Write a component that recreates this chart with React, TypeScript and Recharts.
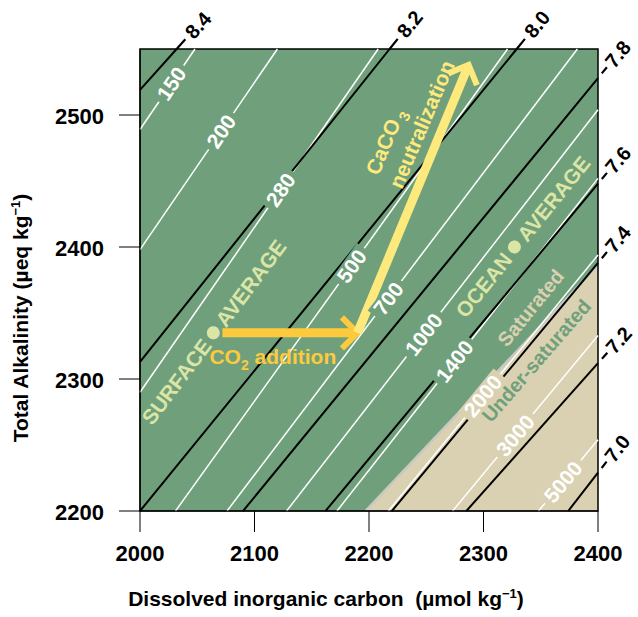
import React from 'react';
import {
  ComposedChart,
  XAxis,
  YAxis,
  Line,
  Area,
  Scatter,
  ReferenceLine,
  ReferenceArea,
  ReferenceDot,
  CartesianGrid,
  Label,
} from 'recharts';

// axes (DIC in µmol/kg, TA in µeq/kg)
const dicTicks = [2000, 2100, 2200, 2300, 2400];
const taTicks = [2200, 2300, 2400, 2500];
const dicRange = [2000, 2400];
const taRange = [2200, 2550];

// pH isolines (black), where each one enters and leaves the frame
const phLabels = ['8.4', '8.2', '8.0', '7.8', '7.6', '7.4', '7.2', '7.0'];
const phStart = [
  { x: 2000, y: 2519 },
  { x: 2000, y: 2313 },
  { x: 2000, y: 2200 },
  { x: 2090, y: 2200 },
  { x: 2162, y: 2200 },
  { x: 2220, y: 2200 },
  { x: 2285, y: 2200 },
  { x: 2374, y: 2200 },
];
const phEnd = [
  { x: 2032, y: 2550 },
  { x: 2218, y: 2550 },
  { x: 2329, y: 2550 },
  { x: 2400, y: 2528 },
  { x: 2400, y: 2448 },
  { x: 2400, y: 2388 },
  { x: 2400, y: 2312 },
  { x: 2400, y: 2229 },
];

// pCO2 isolines (white, µatm)
const pco2Labels = ['150', '200', '280', '500', '700', '1000', '1400', '2000', '3000', '5000'];
const pco2Start = [
  { x: 2000, y: 2489 },
  { x: 2000, y: 2398 },
  { x: 2000, y: 2290 },
  { x: 2031, y: 2200 },
  { x: 2076, y: 2200 },
  { x: 2128, y: 2200 },
  { x: 2172, y: 2200 },
  { x: 2217, y: 2200 },
  { x: 2273, y: 2200 },
  { x: 2348, y: 2200 },
];
const pco2End = [
  { x: 2048, y: 2550 },
  { x: 2120, y: 2550 },
  { x: 2208, y: 2550 },
  { x: 2321, y: 2550 },
  { x: 2382, y: 2550 },
  { x: 2400, y: 2504 },
  { x: 2400, y: 2452 },
  { x: 2400, y: 2394 },
  { x: 2400, y: 2333 },
  { x: 2400, y: 2254 },
];

// calcite saturation boundary
const saturation = [
  { x: 2197, y: 2200 },
  { x: 2400, y: 2386 },
];

const averages = [
  { x: 2064, y: 2335, name: 'SURFACE' },
  { x: 2327, y: 2400, name: 'OCEAN' },
];

const co2Addition = [
  { x: 2072, y: 2335 },
  { x: 2190, y: 2335 },
];
const caco3Neutralization = [
  { x: 2190, y: 2335 },
  { x: 2287, y: 2538 },
];

// label placement along the white lines (fraction of the segment)
const pco2LabelAt = [0.57, 0.59, 0.59, 0.53, 0.46, 0.44, 0.45, 0.45, 0.43, 0.41];

const FONT = '"Liberation Sans", Arial, Helvetica, sans-serif';
const GREEN = '#70a07b';
const BEIGE = '#d9d1b1';
const PALE = '#dbe5a5';
const ORANGE = '#fdca3e';
const LEMON = '#fde97c';
const bold = { fontFamily: FONT, fontWeight: 700 } as const;

const inlineLabel = (text: string, at: number, bg: string) => (p: any) => {
  const pts = p.points;
  if (!pts || pts.length < 2 || p.index !== 0) return <g key={p.key} />;
  const [a, b] = pts;
  const x = a.x + (b.x - a.x) * at;
  const y = a.y + (b.y - a.y) * at;
  const ang = (Math.atan2(b.y - a.y, b.x - a.x) * 180) / Math.PI;
  const w = text.length * 12 + 8;
  return (
    <g key={p.key} transform={`translate(${x},${y}) rotate(${ang})`}>
      <rect x={-w / 2} y={-9} width={w} height={18} fill={bg} />
      <text textAnchor="middle" dy="0.36em" fill="#fff" fontSize={21} {...bold}>
        {text}
      </text>
    </g>
  );
};

const edgeLabel = (text: string) => (p: any) => {
  const pts = p.points;
  if (!pts || pts.length < 2 || p.index !== 1) return <g key={p.key} />;
  const [a, b] = pts;
  const len = Math.hypot(b.x - a.x, b.y - a.y);
  const ux = (b.x - a.x) / len;
  const uy = (b.y - a.y) / len;
  const right = p.payload.x >= dicRange[1];
  const s0 = right ? 6 : 0;
  const s1 = right ? 14 : 13;
  const c = right ? 31 : 32;
  const ang = (Math.atan2(uy, ux) * 180) / Math.PI;
  return (
    <g key={p.key}>
      <line
        x1={b.x + ux * s0}
        y1={b.y + uy * s0}
        x2={b.x + ux * s1}
        y2={b.y + uy * s1}
        stroke="#000"
        strokeWidth={2.2}
      />
      <text
        transform={`translate(${b.x + ux * c},${b.y + uy * c}) rotate(${ang})`}
        textAnchor="middle"
        dy="0.36em"
        fontSize={20}
        fill="#000"
        {...bold}
      >
        {text}
      </text>
    </g>
  );
};

const arrowShape = (color: string, caption: boolean) => (p: any) => {
  const { x1, y1, x2, y2 } = p;
  const t = Math.atan2(y2 - y1, x2 - x1);
  const L = 22;
  const s = 0.78;
  const ax = x2 - L * Math.cos(t - s);
  const ay = y2 - L * Math.sin(t - s);
  const bx = x2 - L * Math.cos(t + s);
  const by = y2 - L * Math.sin(t + s);
  return (
    <g>
      <line
        x1={x1}
        y1={y1}
        x2={x2 - 3 * Math.cos(t)}
        y2={y2 - 3 * Math.sin(t)}
        stroke={color}
        strokeWidth={9}
      />
      <polyline
        points={`${ax},${ay} ${x2},${y2} ${bx},${by}`}
        fill="none"
        stroke={color}
        strokeWidth={6}
      />
      {caption && (
        <text x={x1 - 13} y={y1 + 31} fill={color} fontSize={21} {...bold}>
          CO
          <tspan dy={6} fontSize={14}>
            2
          </tspan>
          <tspan dy={-6}> addition</tspan>
        </text>
      )}
    </g>
  );
};

const averageShape = (p: any) => {
  const { cx, cy, payload } = p;
  const ang = payload.name === 'SURFACE' ? -53 : -51;
  return (
    <g transform={`translate(${cx},${cy}) rotate(${ang})`}>
      <circle r={6.5} fill={PALE} />
      <text x={-11} dy="0.36em" textAnchor="end" fill={PALE} fontSize={21} {...bold}>
        {payload.name}
      </text>
      <text x={11} dy="0.36em" textAnchor="start" fill={PALE} fontSize={21} {...bold}>
        AVERAGE
      </text>
    </g>
  );
};

const noteShape = (text: string, ang: number, color: string) => (p: any) => (
  <g transform={`translate(${p.cx},${p.cy}) rotate(${ang})`}>
    <text textAnchor="middle" dy="0.36em" fill={color} fontSize={20} {...bold}>
      {text}
    </text>
  </g>
);

const caco3Note = (p: any) => (
  <g transform={`translate(${p.cx},${p.cy}) rotate(-67)`} fill={LEMON} fontSize={21} {...bold}>
    <text textAnchor="middle" dy="0.36em">
      CaCO
      <tspan dx={3} dy={6} fontSize={15}>
        3
      </tspan>
    </text>
    <text x={30} y={27} textAnchor="middle" dy="0.36em">
      neutralization
    </text>
  </g>
);

const xTick = (p: any) => (
  <text x={p.x} y={p.y + 25} textAnchor="middle" fill="#000" fontSize={22} {...bold}>
    {p.payload.value}
  </text>
);

const yTick = (p: any) => (
  <text x={p.x} y={p.y + 9} textAnchor="end" fill="#000" fontSize={22} {...bold}>
    {p.payload.value}
  </text>
);

const xTitle = () => (
  <text x={326} y={606} textAnchor="middle" fill="#000" fontSize={21} style={{ whiteSpace: 'pre' }} {...bold}>
    {'Dissolved inorganic carbon  (µmol kg'}
    <tspan dy={-8} fontSize={13}>
      −1
    </tspan>
    <tspan dy={8}>)</tspan>
  </text>
);

const yTitle = () => (
  <text transform="translate(28,318) rotate(-90)" textAnchor="middle" fill="#000" fontSize={21} {...bold}>
    {'Total Alkalinity (µeq kg'}
    <tspan dy={-8} fontSize={13}>
      −1
    </tspan>
    <tspan dy={8}>)</tspan>
  </text>
);

export default function App() {
  return (
    <div style={{ position: 'absolute', left: 0, top: 0, background: '#fff' }}>
      <ComposedChart width={638} height={617} margin={{ top: 49, right: 40, bottom: 0, left: 0 }}>
        <CartesianGrid horizontal={false} vertical={false} fill={GREEN} fillOpacity={1} />
        <XAxis
          type="number"
          dataKey="x"
          domain={dicRange}
          ticks={dicTicks}
          height={106}
          tickSize={21}
          tickMargin={4}
          axisLine={{ stroke: '#000' }}
          tickLine={{ stroke: '#000' }}
          tick={xTick}
        >
          <Label content={xTitle} />
        </XAxis>
        <YAxis
          type="number"
          domain={taRange}
          ticks={taTicks}
          width={140}
          tickSize={21}
          tickMargin={15}
          axisLine={{ stroke: '#000' }}
          tickLine={{ stroke: '#000' }}
          tick={yTick}
        >
          <Label content={yTitle} />
        </YAxis>

        <Area
          data={saturation}
          dataKey="y"
          type="linear"
          baseValue={taRange[0]}
          fill={BEIGE}
          fillOpacity={1}
          stroke="#c9c9c4"
          strokeWidth={2.5}
          isAnimationActive={false}
          activeDot={false}
        />

        {pco2Labels.map((lab, i) => (
          <Line
            key={`pco2-${lab}`}
            data={[pco2Start[i], pco2End[i]]}
            dataKey="y"
            type="linear"
            stroke="#fff"
            strokeWidth={1.5}
            dot={inlineLabel(lab, pco2LabelAt[i], i >= 7 ? BEIGE : GREEN)}
            activeDot={false}
            isAnimationActive={false}
          />
        ))}

        {phLabels.map((lab, i) => (
          <Line
            key={`ph-${lab}`}
            data={[phStart[i], phEnd[i]]}
            dataKey="y"
            type="linear"
            stroke="#000"
            strokeWidth={2}
            dot={edgeLabel(lab)}
            activeDot={false}
            isAnimationActive={false}
          />
        ))}

        <ReferenceLine segment={co2Addition} shape={arrowShape(ORANGE, true)} />
        <ReferenceLine segment={caco3Neutralization} shape={arrowShape(LEMON, false)} />

        <Scatter data={averages} dataKey="y" shape={averageShape} isAnimationActive={false} />

        <ReferenceDot x={2341} y={2354} r={0} shape={noteShape('Saturated', -51, BEIGE)} />
        <ReferenceDot x={2346} y={2314} r={0} shape={noteShape('Under-saturated', -49, GREEN)} />
        <ReferenceDot x={2214} y={2480} r={0} shape={caco3Note} />

        <ReferenceArea
          x1={dicRange[0]}
          x2={dicRange[1]}
          y1={taRange[0]}
          y2={taRange[1]}
          fill="none"
          stroke="#000"
          strokeWidth={1.5}
        />
      </ComposedChart>
    </div>
  );
}
